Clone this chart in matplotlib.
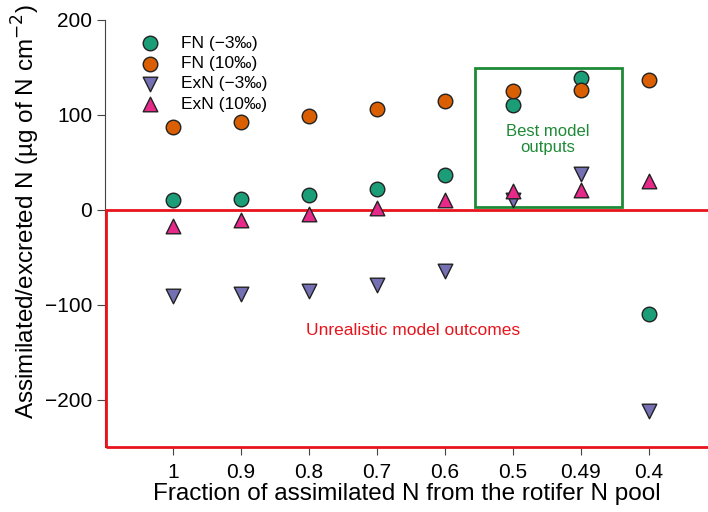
import numpy as np
import matplotlib.pyplot as plt
import matplotlib.patches as patches

# ---------------------------------------------------------------------------
# Data
# ---------------------------------------------------------------------------
fractions = ["1", "0.9", "0.8", "0.7", "0.6", "0.5", "0.49", "0.4"]
fn_m3  = [10, 12, 16, 22, 37, 111, 139, -110]
fn_10  = [87, 93, 99, 106, 115, 125, 126, 137]
exn_m3 = [-91, -88, -85, -79, -64, 10, 38, -212]
exn_10 = [-17, -11, -4, 2, 10, 20, 21, 31]

C_GREEN  = "#1b9e77"
C_ORANGE = "#d95f02"
C_PURPLE = "#7570b3"
C_PINK   = "#e7298a"

plt.rcParams["font.family"] = ["Liberation Sans", "DejaVu Sans"]

fig = plt.figure(figsize=(7.08, 5.12), dpi=100)
ax = fig.add_axes([0.148, 0.126, 0.852, 0.835])

x = np.arange(len(fractions))
kw = dict(s=110, edgecolors="#222222", linewidths=1.0, zorder=4, clip_on=False)
ax.scatter(x, fn_m3, marker="o", color=C_GREEN, label="FN (\u22123\u2030)", **kw)
ax.scatter(x, fn_10, marker="o", color=C_ORANGE, label="FN (10\u2030)", **kw)
ax.scatter(x, exn_m3, marker="v", color=C_PURPLE, label="ExN (\u22123\u2030)", **kw)
ax.scatter(x, exn_10, marker="^", color=C_PINK, label="ExN (10\u2030)", **kw)

# best-model box and unrealistic region
ax.add_patch(patches.Rectangle((4.44, 3), 2.16, 146.5, fill=False,
                               edgecolor="#1e8a36", lw=2, zorder=3))
ax.text(5.51, 74, "Best model\noutputs", color="#1e8a36", fontsize=12,
        ha="center", va="center", linespacing=1.1)
ax.add_patch(patches.Rectangle((-0.98, -249), 9.5, 249, fill=False,
                               edgecolor="#e8141c", lw=2, zorder=3, clip_on=False))
ax.text(3.54, -127, "Unrealistic model outcomes", color="#e8141c", fontsize=12.5,
        ha="center", va="center")

ax.set_xlim(-1, 7.87)
ax.set_ylim(-250, 200)
ax.set_xticks(x)
ax.set_xticklabels(fractions)
ax.set_yticks([-200, -100, 0, 100, 200])
ax.set_yticklabels(["\u2212200", "\u2212100", "0", "100", "200"])
ax.tick_params(labelsize=15, direction="out", length=6, color="#444444")
ax.tick_params(axis="x", pad=5)
ax.tick_params(axis="y", pad=3)

for side in ("top", "right", "bottom"):
    ax.spines[side].set_visible(False)
ax.spines["left"].set_color("#444444")
ax.spines["left"].set_bounds(-250, 200)

ax.set_xlabel("Fraction of assimilated N from the rotifer N pool", fontsize=17.5,
              labelpad=1)
ax.set_ylabel("Assimilated/excreted N (\u00b5g of N cm$^{\u22122}$)", fontsize=17.5)
ax.yaxis.set_label_coords(-0.104, 0.551)

ax.legend(loc="upper left", bbox_to_anchor=(0.02, 1.0), frameon=False,
          fontsize=12.5, handletextpad=0.8, labelspacing=0.3, borderaxespad=0.5)

fig.savefig("out.png", dpi=100)
